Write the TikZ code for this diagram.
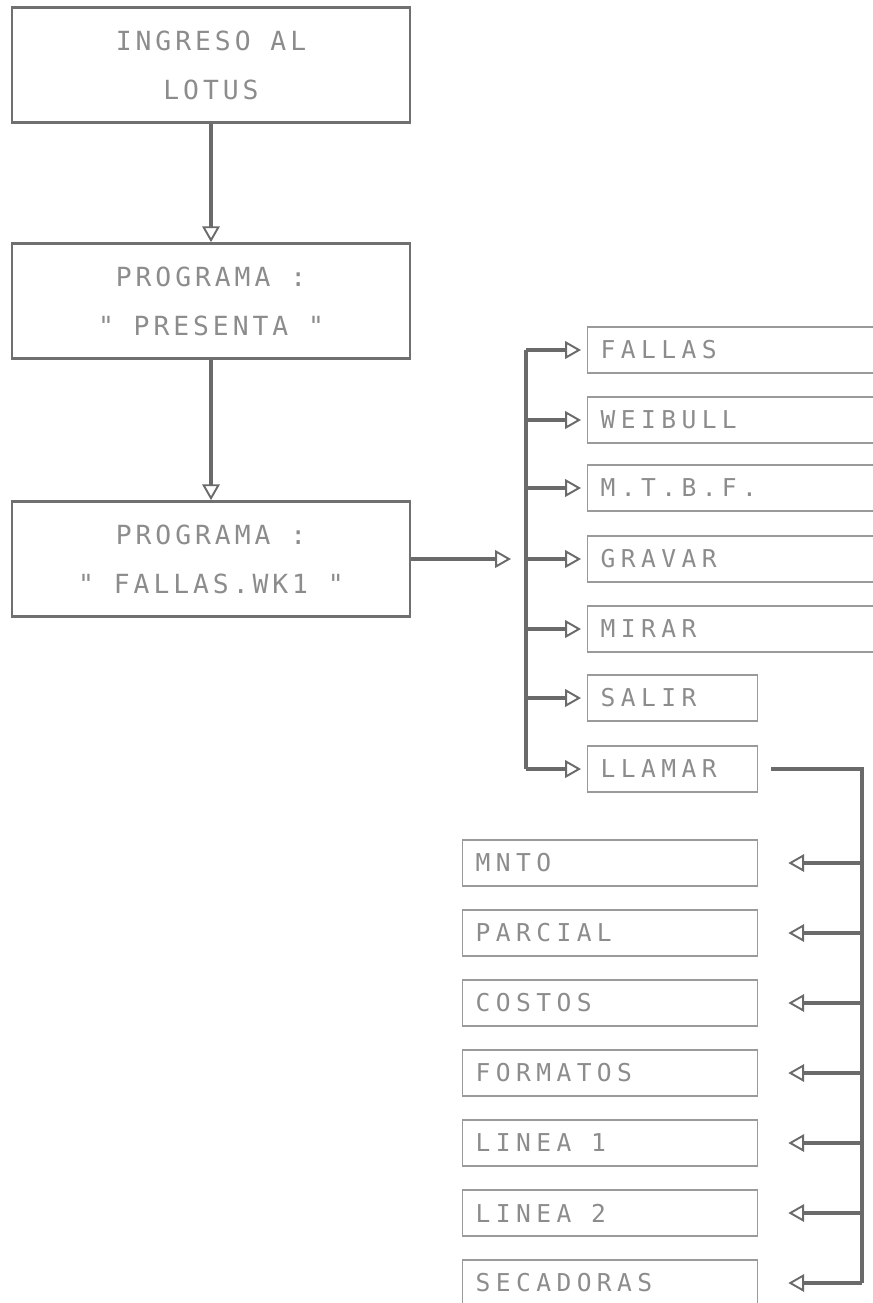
\documentclass[tikz,border=0pt]{standalone}
\usepackage{fontspec}
\newfontfamily\dotfont[LetterSpace=15]{DejaVu Sans Mono}
\newfontfamily\optfont[LetterSpace=22]{DejaVu Sans Mono}
\usetikzlibrary{arrows.meta,positioning}
\definecolor{ink}{HTML}{8C8C8C}
\definecolor{frame}{HTML}{707070}
\definecolor{rule}{HTML}{9A9A9A}
\definecolor{wire}{HTML}{6A6A6A}

\begin{document}
\begin{tikzpicture}[x=0.02cm,y=-0.02cm,
  font={\dotfont\fontsize{15}{28}\selectfont},
  mainbox/.style={draw=frame,line width=1.6pt,minimum width=7.96cm,minimum height=2.3cm,align=center,text=ink},
  optbox/.style={draw=rule,line width=0.8pt,anchor=west,minimum height=0.92cm,inner xsep=0.26cm,align=left,text=ink,
    font={\optfont\fontsize{14}{16}\selectfont}},
  wide/.style={text width=5.88cm},
  short/.style={text width=2.88cm},
  sub/.style={text width=5.38cm},
  wire/.style={draw=wire,line width=2pt},
  tip/.style={-{Triangle[open,length=9pt,width=10pt,line width=1.1pt]}}]
\useasboundingbox (0,0) rectangle (873,1303);

% main chain
\node[mainbox] (lotus) at (211,65) {INGRESO AL\\LOTUS};
\node[mainbox] (presenta) at (211,301) {PROGRAMA :\\" PRESENTA "};
\node[mainbox] (fallas) at (211,559) {PROGRAMA :\\" FALLAS.WK1 "};
\draw[wire,tip] (lotus) -- (presenta);
\draw[wire,tip] (presenta) -- (fallas);

% menu of FALLAS.WK1
\coordinate (busA) at (526,350);
\coordinate (busB) at (526,769);
\foreach \y/\t/\w [count=\i] in {350/FALLAS/wide,420/WEIBULL/wide,488/M.T.B.F./wide,
    559/GRAVAR/wide,629/MIRAR/wide,698/SALIR/short,769/LLAMAR/short}
  \node[optbox,\w] (opt\i) at (587,\y) {\t};
\draw[wire] (busA) -- (busB);
\draw[wire,tip] (fallas.east) -- ([xshift=-0.3cm]fallas.east -| busA);
\foreach \i in {1,...,7}
  \draw[wire,tip] (busA |- opt\i.west) -- ([xshift=-0.12cm]opt\i.west);

% files called by LLAMAR
\coordinate (busC) at (862,769);
\coordinate (busD) at (862,1283);
\foreach \y/\t [count=\i] in {863/MNTO,933/PARCIAL,1003/COSTOS,1073/FORMATOS,
    1143/{LINEA\hspace{0.8em}1},1213/{LINEA\hspace{0.8em}2},1283/SECADORAS}
  \node[optbox,sub] (file\i) at (462,\y) {\t};
\draw[wire] ([xshift=0.26cm]opt7.east) -- (busC) -- (busD);
\foreach \i in {1,...,7}
  \draw[wire,tip] (busC |- file\i.east) -- ([xshift=0.6cm]file\i.east);
\end{tikzpicture}
\end{document}
